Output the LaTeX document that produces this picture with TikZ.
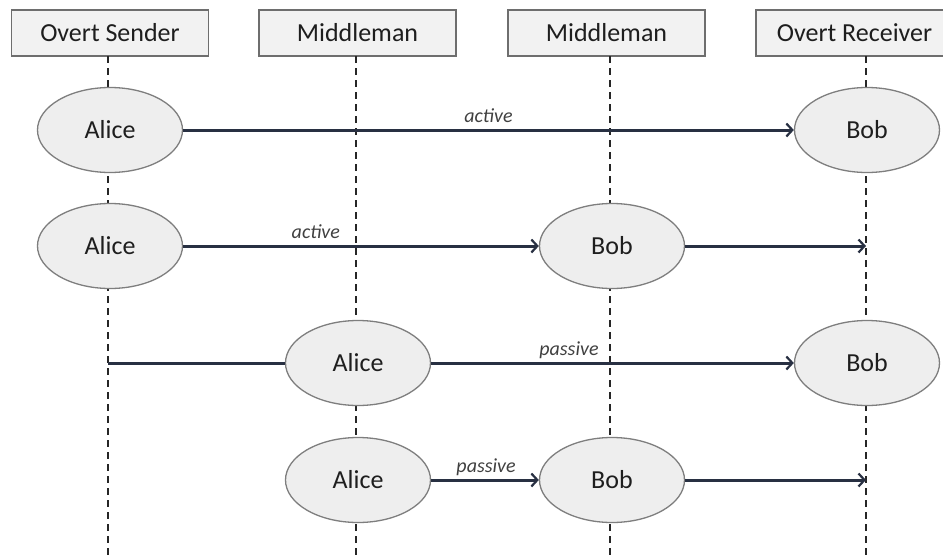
\documentclass[tikz,border=0pt]{standalone}
\usepackage{fontspec}
\setmainfont{Carlito}
\usetikzlibrary{shapes.geometric,arrows.meta}
\definecolor{boxfill}{HTML}{F2F2F2}
\definecolor{boxline}{HTML}{6E6E6E}
\definecolor{ellfill}{HTML}{EEEEEE}
\definecolor{ellline}{HTML}{7E7E7E}
\definecolor{arrowcol}{HTML}{283042}
\definecolor{txt}{HTML}{1E1E1E}
\tikzset{
  header/.style={draw=boxline, fill=boxfill, line width=1.4pt, minimum width=197pt, minimum height=46pt, inner sep=0pt, text=txt, font=\fontsize{26}{30}\selectfont},
  actor/.style={ellipse, draw=ellline, fill=ellfill, line width=1.3pt, minimum width=145pt, minimum height=85pt, inner sep=0pt, text=txt, font=\fontsize{26}{30}\selectfont},
  lifeline/.style={draw=black!85, line width=2.3pt, dash pattern=on 7pt off 5pt},
  msg/.style={draw=arrowcol, line width=3pt, -{Straight Barb[length=6pt,width=13pt,line width=2.2pt]}},
  plain/.style={draw=arrowcol, line width=3pt},
  lbl/.style={anchor=base, yshift=8pt, inner sep=0pt, text=black!75, font=\fontsize{20}{24}\selectfont\itshape}
}
\begin{document}
\begin{tikzpicture}[x=1pt,y=-1pt]
\useasboundingbox (0,0) rectangle (943,555);
% headers
\node[header] (h1) at (110,33) {Overt Sender};
\node[header] (h2) at (357.5,33) {Middleman};
\node[header] (h3) at (606.5,33) {Middleman};
\node[header] (h4) at (854.5,33) {Overt Receiver};
% lifeline coordinates
\coordinate (t1) at (108,56);  \coordinate (b1) at (108,555);
\coordinate (t2) at (356,56);  \coordinate (b2) at (356,555);
\coordinate (t3) at (610,56);  \coordinate (b3) at (610,555);
\coordinate (t4) at (866,56);  \coordinate (b4) at (866,555);
\draw[lifeline] (t1) -- (b1);
\draw[lifeline] (t2) -- (b2);
\draw[lifeline] (t3) -- (b3);
\draw[lifeline] (t4) -- (b4);
% row 1
\node[actor] (a1) at (110,130) {Alice};
\node[actor] (b1n) at (867,130) {Bob};
% row 2
\node[actor] (a2) at (110,246) {Alice};
\node[actor] (b2n) at (612,246) {Bob};
\coordinate (e2) at (866,246);
% row 3
\node[actor] (a3) at (358,363) {Alice};
\node[actor] (b3n) at (867,363) {Bob};
\coordinate (s3) at (108,363);
% row 4
\node[actor] (a4) at (358,480) {Alice};
\node[actor] (b4n) at (612,480) {Bob};
\coordinate (e4) at (866,480);
% messages
\draw[msg] (a1.east) -- node[lbl, pos=0.5] {active} (b1n.west);
\draw[msg] (a2.east) -- node[lbl, pos=0.373] {active} (b2n.west);
\draw[msg] (b2n.east) -- (e2);
\draw[plain] (s3) -- (a3.west);
\draw[msg] (a3.east) -- node[lbl, pos=0.38] {passive} (b3n.west);
\draw[msg] (a4.east) -- node[lbl, pos=0.51] {passive} (b4n.west);
\draw[msg] (b4n.east) -- (e4);
\end{tikzpicture}
\end{document}
